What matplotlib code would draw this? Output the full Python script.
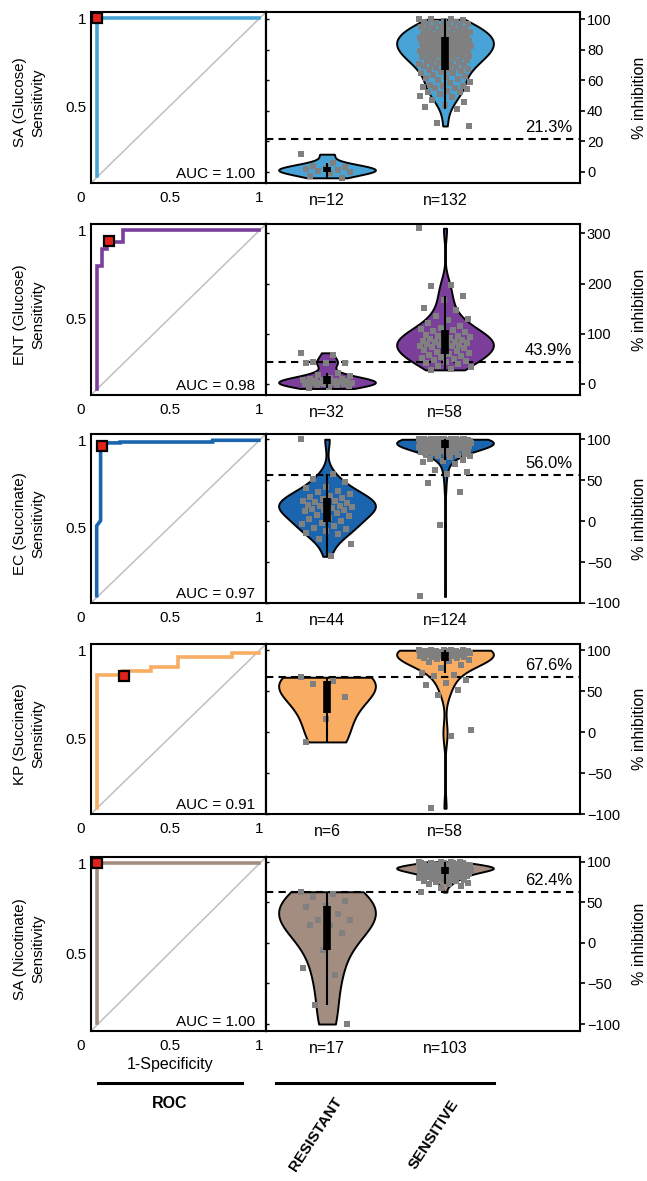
import numpy as np
import matplotlib.pyplot as plt
import matplotlib.transforms as mtransforms
from matplotlib.lines import Line2D

plt.rcParams['font.family'] = ['Liberation Sans', 'DejaVu Sans']

# ---- data ----
row_names = ['SA (Glucose)', 'ENT (Glucose)', 'EC (Succinate)', 'KP (Succinate)', 'SA (Nicotinate)']
colors = ['#48A4D6', '#7B3F9B', '#1A65AE', '#F8AD62', '#A38D80']
auc = [1.00, 0.98, 0.97, 0.91, 1.00]
cutoffs = [21.3, 43.9, 56.0, 67.6, 62.4]
n_res = [12, 32, 44, 6, 17]
n_sen = [132, 58, 124, 58, 103]

# ROC curves (in the plotted axis units)
roc_fpr = [
    [0.09, 0.09, 1.0],
    [0.088, 0.088, 0.116, 0.116, 0.144, 0.144, 0.238, 0.238, 1.0],
    [0.088, 0.088, 0.11, 0.11, 0.13, 0.13, 0.22, 0.22, 0.74, 0.74, 1.0],
    [0.092, 0.092, 0.238, 0.238, 0.392, 0.392, 0.543, 0.543, 0.847, 0.847, 1.0],
    [0.092, 0.092, 1.0],
]
roc_tpr = [
    [0.11, 1.0, 1.0],
    [0.10, 0.80, 0.80, 0.895, 0.895, 0.935, 0.935, 1.0, 1.0],
    [0.11, 0.51, 0.54, 0.965, 0.965, 0.985, 0.985, 0.99, 0.99, 1.0, 1.0],
    [0.10, 0.86, 0.86, 0.884, 0.884, 0.906, 0.906, 0.963, 0.963, 0.985, 0.985],
    [0.11, 1.0, 1.0],
]
cut_fpr = [0.09, 0.155, 0.12, 0.243, 0.092]
cut_tpr = [1.0, 0.94, 0.97, 0.854, 1.0]

# % inhibition per group
sa_glu_res = [11.5, 6, 4, 3, 2.5, 1.5, 1, 0.5, 0, -1, -2.5, -4]
sa_glu_sen = [100, 100, 100, 99.5, 99, 98.5, 98, 97.5, 97, 96.5, 96, 95.5, 95, 95,
              94.5, 94, 93.5, 93, 93, 92.5, 92, 92, 91.5, 91, 91, 90.5, 90.5, 90, 90,
              89.5, 89.5, 89, 89, 88.5, 88, 88, 87.5, 87.5, 87, 87, 86.5, 86, 86, 85.5, 85.5, 85, 85,
              84.5, 84.5, 84, 84, 83.5, 83, 83, 82.5, 82.5, 82, 82, 81.5, 81, 81, 80.5, 80.5, 80, 80,
              79.8, 79.5, 79, 79, 78.5, 78, 78, 77.5, 77, 77, 76.5, 76, 76, 75.5, 75.5, 75, 75,
              74.5, 74, 73.5, 73, 72.5, 72, 71.5, 71, 71, 70.5, 70, 70,
              69.5, 69, 68, 67.5, 67, 66.5, 66, 65.5, 65,
              64.5, 63.5, 63, 62, 61.5, 61, 60,
              59, 58, 57, 56.5, 56, 55.5, 55, 55,
              54, 53, 52.5, 52, 51, 50,
              49, 47, 46, 44, 42.5, 41, 32, 30]
ent_glu_res = [62, 58, 44, 42, 42, 41, 22, 18, 15, 12, 10, 9, 8, 7, 6, 5, 5, 4, 3, 3,
               2, 2, 1, 1, 0, 0, -1, -2, -3, -5, -7, -9]
ent_glu_sen = [310, 197, 195, 175, 168, 152, 148, 135, 130, 128, 122, 115, 112, 110, 108,
               105, 103, 100, 98, 96, 95, 93, 92, 90, 88, 86, 85, 84, 83, 82, 80, 79, 78,
               77, 76, 75, 73, 72, 70, 68, 66, 64, 62, 60, 58, 56, 54, 52, 50, 48, 46, 44,
               42, 40, 36, 33, 30, 28]
ec_suc_res = [100, 57, 52, 48, 42, 40, 37, 35, 33, 31, 30, 28, 27, 25, 24, 23, 22, 21, 20,
              19, 18, 17, 16, 15, 14, 13, 12, 10, 8, 6, 4, 2, 0, -2, -4, -6, -8, -10, -12,
              -14, -16, -22, -28, -43]
ec_suc_sen = [100, 100, 100, 100, 100, 99.9, 99.8, 99.7, 99.6, 99.5, 99.4, 99.3, 99.2, 99.1,
              99.0, 98.9, 98.8, 98.7, 98.6, 98.5, 98.4, 98.3, 98.2, 98.1, 98.0, 99.9, 99.7,
              99.5, 99.3, 99.1, 98.9, 98.7, 98.5, 98.3, 98.1, 100, 100, 99.8, 99.6, 99.4,
              97.8, 97.6, 97.4, 97.2, 97.0, 96.8, 96.6, 96.4, 96.2, 96.0, 95.8, 95.6, 95.4,
              95.2, 95.0, 94.8, 94.6, 94.4, 94.2, 94.0, 97.5, 97.0, 96.5, 96.0, 95.5, 95.0,
              94.5, 97.9, 96.3, 95.1,
              93.8, 93.5, 93.2, 93.0, 92.7, 92.4, 92.1, 91.8, 91.5, 91.2, 91.0, 90.7, 90.4,
              90.1, 93.6, 92.9, 92.2, 91.6, 90.9, 90.2,
              89.5, 89, 88.5, 88, 87.5, 87, 86.5, 86, 85.5, 85, 88.8, 86.2,
              84.5, 84, 83, 82.5, 82, 81, 80.5, 80,
              79, 78, 76, 75, 74, 72, 70, 62, 60, 57, 47, 36, -5, -92]
kp_suc_res = [67, 63, 59, 43, 16, -12]
kp_suc_sen = [100, 100, 100, 100, 99.8, 99.6, 99.4, 99.2, 99, 98.8, 98.6, 98.4, 98.2, 98,
              97.8, 97.6, 97.4, 97.2, 97, 96.8, 96.6, 96.4, 96.2, 96, 95.8, 95.6, 95.4, 95.2,
              95, 99.5, 97.5,
              94.5, 94, 93.5, 93, 92.5, 92, 91.5, 91, 90.5, 90,
              89, 88, 86.5, 85.5, 82, 78, 72, 70, 68, 64, 60, 57, 52, 45, 3, -5, -93]
sa_nic_res = [63, 60, 57, 52, 45, 44.6, 35, 28, 28, 22, 22, 12, -9, -31, -40, -76, -100]
sa_nic_sen = [100, 99.5, 99, 98.5, 98, 97.5, 97, 96.5, 96, 95.5, 95, 99.8, 99.2, 98.2, 97.8,
              96.8, 96.2, 95.8, 95.2, 97.2,
              94.8, 94.6, 94.4, 94.2, 94, 93.8, 93.6, 93.4, 93.2, 93, 92.8, 92.6, 92.4, 92.2,
              92, 91.8, 91.6, 91.4, 91.2, 91, 90.8, 90.6, 90.4, 90.2, 90, 94.5, 93.5, 92.5,
              91.5, 90.5, 94.1, 93.1, 92.1, 91.1, 90.1,
              89.8, 89.5, 89.2, 89, 88.7, 88.4, 88.1, 87.8, 87.5, 87.2, 87, 86.7, 86.4, 86.1,
              85.8, 85.5, 85.2, 85, 89.1, 88, 86.9, 85.9,
              84.6, 84.2, 83.8, 83.4, 83, 82.6, 82.2, 81.8, 81.4, 81, 80.6, 80.2,
              79.5, 79, 78.5, 78, 77, 76.5, 76, 75.5, 74, 73, 72, 70.5, 67, 62.5]

resistant = [sa_glu_res, ent_glu_res, ec_suc_res, kp_suc_res, sa_nic_res]
sensitive = [sa_glu_sen, ent_glu_sen, ec_suc_sen, kp_suc_sen, sa_nic_sen]

vio_ylim = [(-7.4, 104.8), (-22, 318.5), (-100, 106.4), (-100, 107.6), (-108.6, 105.8)]
vio_ticks = [[0, 20, 40, 60, 80, 100], [0, 100, 200, 300], [-100, -50, 0, 50, 100],
             [-100, -50, 0, 50, 100], [-100, -50, 0, 50, 100]]

# ---- layout (pixels) ----
W, H = 647, 1181
roc_l, roc_r, vio_r = 91, 266, 580
row_top = [12, 224, 434, 644, 857]
row_bot = [183, 395, 603, 814, 1031]


def rect(x0, x1, top, bot):
    return [x0 / W, 1 - bot / H, (x1 - x0) / W, (bot - top) / H]


def jitter(n, width=0.44):
    return ((np.arange(n) * 0.6180339887) % 1 - 0.5) * width


fig = plt.figure(figsize=(W / 100, H / 100), dpi=100)

for i in range(5):
    c = colors[i]
    # ROC panel
    ax = fig.add_axes(rect(roc_l, roc_r, row_top[i], row_bot[i]))
    ax.plot([0, 1], [0, 1], transform=ax.transAxes, color='#c0c0c0', lw=1.1)
    ax.plot(roc_fpr[i], roc_tpr[i], color=c, lw=2.6, solid_joinstyle='miter')
    ax.plot(cut_fpr[i], cut_tpr[i], 's', ms=6.5, mfc='#e32219', mec='k', mew=1.6, zorder=5)
    ax.set_xlim(0.056, 1.04)
    ax.set_ylim(0.068, 1.036)
    ax.set_xticks([0.5, 1])
    ax.set_xticklabels(['0.5', '1'])
    ax.set_yticks([0.5, 1])
    ax.set_yticklabels(['0.5', '1'])
    ax.tick_params(axis='x', length=0, labelsize=11, pad=6)
    ax.tick_params(axis='y', length=0, labelsize=11, pad=3.5)
    ax.annotate('0', xy=(0, 0), xycoords=mtransforms.blended_transform_factory(ax.transData, ax.transAxes),
                xytext=(0, -6), textcoords='offset points', ha='center', va='top',
                fontsize=11, annotation_clip=False)
    ax.text(0.937, 0.03, f'AUC = {auc[i]:.2f}', transform=ax.transAxes,
            ha='right', va='baseline', fontsize=11)
    for s in ax.spines.values():
        s.set_linewidth(1.5)

    cy = (row_top[i] + row_bot[i]) / 2
    fig.text(29 / W, 1 - (cy + 5) / H, f'{row_names[i]}\nSensitivity', rotation=90,
             ha='center', va='center', fontsize=11, linespacing=1.45, multialignment='center')
    fig.text(640 / W, 1 - cy / H, '% inhibition', rotation=90, ha='center', va='center',
             fontsize=11.5)

    # violin panel
    av = fig.add_axes(rect(roc_r, vio_r, row_top[i], row_bot[i]))
    groups = [resistant[i], sensitive[i]]
    parts = av.violinplot(groups, positions=[1, 2], widths=0.82, showextrema=False)
    for b in parts['bodies']:
        b.set_facecolor(c)
        b.set_edgecolor('k')
        b.set_linewidth(1.4)
        b.set_alpha(1)
    for p, g in zip([1, 2], groups):
        g = np.asarray(g, dtype=float)
        av.scatter(p + jitter(len(g)), g, marker='s', s=24, color='#808080',
                   linewidths=0, zorder=3)
        q1, q3 = np.percentile(g, [25, 75])
        iqr = q3 - q1
        lo = g[g >= q1 - 1.5 * iqr].min()
        hi = g[g <= q3 + 1.5 * iqr].max()
        av.vlines(p, lo, hi, color='k', lw=1.5, zorder=4, capstyle='butt')
        av.vlines(p, q1, q3, color='k', lw=5.5, zorder=4, capstyle='butt')
    av.axhline(cutoffs[i], color='k', lw=1.5, dashes=(3.5, 2.5), zorder=2)
    av.annotate(f'{cutoffs[i]:.1f}%', xy=(0.975, cutoffs[i]),
                xycoords=mtransforms.blended_transform_factory(av.transAxes, av.transData),
                xytext=(0, 3), textcoords='offset points', ha='right', va='bottom',
                fontsize=12)
    av.set_xlim(0.483, 3.144)
    av.set_ylim(*vio_ylim[i])
    av.set_xticks([1, 2])
    av.set_xticklabels([f'n={n_res[i]}', f'n={n_sen[i]}'])
    av.tick_params(axis='x', length=0, labelsize=11.5, pad=7)
    av.yaxis.tick_right()
    av.set_yticks(vio_ticks[i])
    av.tick_params(axis='y', direction='out', length=3.5, width=1.2, labelsize=10.5, pad=1.5)
    sec = av.secondary_yaxis('left')
    sec.set_yticks(vio_ticks[i])
    sec.tick_params(direction='in', length=2.5, width=1, labelleft=False)
    for s in av.spines.values():
        s.set_linewidth(1.5)
    sec.spines['left'].set_linewidth(1.5)

# bottom annotations
fig.text(170 / W, 1 - 1064 / H, '1-Specificity', ha='center', va='center', fontsize=11.5)
fig.add_artist(Line2D([98 / W, 242 / W], [1 - 1083 / H] * 2, color='k', lw=2.2,
                      transform=fig.transFigure))
fig.add_artist(Line2D([276 / W, 494 / W], [1 - 1083 / H] * 2, color='k', lw=2.2,
                      transform=fig.transFigure))
fig.text(170 / W, 1 - 1104 / H, 'ROC', ha='center', va='center', fontsize=11.5,
         fontweight='bold')
fig.text(339 / W, 1 - 1099 / H, 'RESISTANT', ha='right', va='center', rotation=57,
         rotation_mode='anchor', fontsize=11, fontweight='bold')
fig.text(455 / W, 1 - 1101 / H, 'SENSITIVE', ha='right', va='center', rotation=57,
         rotation_mode='anchor', fontsize=11, fontweight='bold')

fig.savefig('out.png', dpi=100)
